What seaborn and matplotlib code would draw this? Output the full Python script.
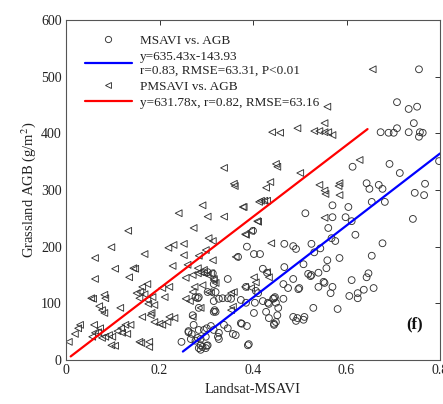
import numpy as np
import pandas as pd
import matplotlib
matplotlib.use('Agg')
import matplotlib.pyplot as plt
from matplotlib.lines import Line2D
import seaborn as sns

# MSAVI vs. AGB (circles)
msavi_x = [0.755, 0.708, 0.733, 0.751, 0.744, 0.673, 0.690, 0.701, 0.708, 0.733, 0.757, 0.763,
           0.755, 0.613, 0.692, 0.714, 0.798, 0.643, 0.649, 0.669, 0.677, 0.768, 0.766, 0.746,
           0.570, 0.604, 0.654, 0.682, 0.742, 0.570, 0.598, 0.611, 0.561, 0.619, 0.568, 0.576,
           0.677, 0.525, 0.531, 0.544, 0.654, 0.585, 0.559, 0.557, 0.540, 0.525, 0.611, 0.643,
           0.647, 0.551, 0.553, 0.540, 0.570, 0.566, 0.606, 0.624, 0.637, 0.658, 0.624, 0.529,
           0.581, 0.512, 0.387, 0.402, 0.415, 0.467, 0.486, 0.492, 0.400, 0.368, 0.421, 0.430,
           0.467, 0.486, 0.497, 0.508, 0.518, 0.523, 0.374, 0.385, 0.406, 0.411, 0.402, 0.428,
           0.434, 0.445, 0.447, 0.454, 0.465, 0.452, 0.346, 0.385, 0.465, 0.475, 0.499, 0.316,
           0.327, 0.335, 0.346, 0.353, 0.277, 0.284, 0.404, 0.421, 0.432, 0.443, 0.449, 0.434,
           0.449, 0.445, 0.486, 0.492, 0.508, 0.495, 0.510, 0.284, 0.320, 0.318, 0.271, 0.273,
           0.284, 0.295, 0.301, 0.310, 0.316, 0.327, 0.327, 0.325, 0.338, 0.346, 0.357, 0.363,
           0.376, 0.387, 0.374, 0.262, 0.269, 0.267, 0.277, 0.288, 0.299, 0.284, 0.292, 0.301,
           0.288, 0.389, 0.247, 0.262, 0.282, 0.288, 0.299, 0.303, 0.391, 0.303, 0.314, 0.316,
           0.303, 0.320, 0.282, 0.316, 0.445]
msavi_agb = [513, 455, 443, 447, 418, 402, 401, 401, 409, 402, 402, 401,
             394, 341, 346, 330, 351, 312, 302, 309, 302, 311, 291, 295,
             273, 270, 279, 279, 249, 252, 252, 245, 233, 221, 215, 210,
             206, 205, 190, 197, 184, 180, 176, 162, 154, 150, 141, 146,
             153, 138, 136, 129, 129, 118, 113, 118, 124, 127, 109, 92,
             90, 259, 200, 187, 187, 205, 201, 196, 228, 182, 161, 154,
             164, 143, 125, 169, 152, 148, 106, 101, 122, 118, 83, 85,
             99, 109, 111, 92, 108, 79, 143, 129, 134, 127, 127, 104,
             108, 109, 109, 108, 111, 111, 101, 104, 101, 108, 101, 74,
             67, 64, 76, 69, 71, 74, 76, 92, 85, 88, 79, 62,
             53, 53, 56, 60, 53, 48, 37, 41, 62, 56, 46, 44,
             64, 60, 65, 51, 46, 37, 34, 37, 41, 21, 23, 25,
             26, 26, 32, 49, 39, 18, 21, 26, 28, 155, 153, 134,
             120, 120, 109, 85, 62]

# PMSAVI vs. AGB (triangles)
pmsavi_x = [0.656, 0.559, 0.553, 0.441, 0.458, 0.495, 0.531, 0.542, 0.553, 0.561, 0.570, 0.449,
            0.501, 0.542, 0.553, 0.555, 0.583, 0.585, 0.585, 0.628, 0.437, 0.428, 0.417, 0.424,
            0.430, 0.380, 0.439, 0.553, 0.411, 0.402, 0.406, 0.430, 0.338, 0.359, 0.292, 0.241,
            0.303, 0.338, 0.378, 0.273, 0.133, 0.305, 0.314, 0.385, 0.413, 0.452, 0.361, 0.409,
            0.383, 0.396, 0.299, 0.284, 0.363, 0.314, 0.097, 0.062, 0.105, 0.144, 0.148, 0.062,
            0.135, 0.168, 0.219, 0.230, 0.252, 0.252, 0.228, 0.260, 0.282, 0.295, 0.316, 0.054,
            0.058, 0.082, 0.084, 0.071, 0.077, 0.082, 0.116, 0.151, 0.159, 0.168, 0.183, 0.181,
            0.163, 0.221, 0.232, 0.030, 0.026, 0.019, 0.006, 0.060, 0.073, 0.062, 0.056, 0.069,
            0.077, 0.084, 0.092, 0.099, 0.110, 0.118, 0.127, 0.138, 0.120, 0.131, 0.097, 0.105,
            0.157, 0.161, 0.178, 0.178, 0.256, 0.271, 0.282, 0.288, 0.295, 0.303, 0.310, 0.275,
            0.292, 0.310, 0.305, 0.320, 0.316, 0.271, 0.353, 0.359, 0.383, 0.396, 0.434, 0.271,
            0.288, 0.353, 0.357, 0.256, 0.157, 0.174, 0.185, 0.176, 0.189, 0.206, 0.211, 0.221,
            0.189, 0.200, 0.206, 0.217, 0.265, 0.163, 0.174]
pmsavi_agb = [513, 447, 418, 402, 401, 409, 404, 404, 402, 402, 397, 346,
              330, 309, 299, 293, 307, 312, 291, 353, 314, 304, 281, 281,
              281, 270, 206, 251, 244, 146, 137, 155, 339, 311, 273, 259,
              253, 253, 270, 233, 228, 215, 210, 221, 279, 341, 307, 245,
              222, 228, 194, 184, 182, 176, 199, 180, 161, 162, 161, 143,
              146, 187, 198, 203, 205, 185, 166, 168, 162, 159, 143, 109,
              108, 115, 109, 95, 88, 83, 92, 118, 120, 116, 83, 79,
              76, 76, 74, 62, 56, 46, 32, 62, 56, 48, 41, 49,
              39, 41, 44, 41, 51, 56, 62, 62, 48, 46, 26, 25,
              32, 30, 23, 32, 145, 150, 153, 155, 153, 150, 153, 129,
              132, 118, 120, 136, 141, 120, 118, 120, 129, 127, 146, 76,
              92, 88, 94, 108, 109, 106, 111, 99, 97, 127, 111, 129,
              67, 64, 62, 67, 104, 129, 134]

# regression fits as given in the legend
msavi_slope, msavi_icpt = 635.43, -143.93
pmsavi_slope, pmsavi_icpt = 631.78, 0.0
msavi_fit_x = [0.25, 0.80]
pmsavi_fit_x = [0.01, 0.645]

x_ticks = [0, 0.2, 0.4, 0.6, 0.8]
x_tick_labels = ['0', '0.2', '0.4', '0.6', '0.8']
y_ticks = [0, 100, 200, 300, 400, 500, 600]

sns.set_style('white')
plt.rcParams['font.family'] = ['Liberation Serif', 'DejaVu Serif']
plt.rcParams['mathtext.fontset'] = 'stix'

fig = plt.figure(figsize=(4.43, 4.04), dpi=100)
ax = fig.add_axes([66 / 443, 1 - 360 / 404, (440 - 66) / 443, (360 - 20) / 404])

sns.scatterplot(x=msavi_x, y=msavi_agb, marker='o', s=24, facecolor='none',
                edgecolor='#333333', linewidth=0.65, ax=ax)
sns.scatterplot(x=pmsavi_x, y=pmsavi_agb, marker='<', s=24, facecolor='none',
                edgecolor='#333333', linewidth=0.65, ax=ax)

fit_m = pd.DataFrame({'x': msavi_fit_x})
fit_m['y'] = msavi_slope * fit_m['x'] + msavi_icpt
fit_p = pd.DataFrame({'x': pmsavi_fit_x})
fit_p['y'] = pmsavi_slope * fit_p['x'] + pmsavi_icpt
sns.lineplot(data=fit_m, x='x', y='y', color='#0000ff', linewidth=1.6, ax=ax)
sns.lineplot(data=fit_p, x='x', y='y', color='#ff0000', linewidth=1.6, ax=ax)

ax.set_xlim(0, 0.8)
ax.set_ylim(0, 600)
ax.set_xticks(x_ticks)
ax.set_xticklabels(x_tick_labels)
ax.set_yticks(y_ticks)
ax.tick_params(direction='in', top=True, right=True, length=3.5, width=0.7,
               labelsize=10, colors='#333333', pad=3)
ax.tick_params(axis='x', labelcolor='#222222')
ax.tick_params(axis='y', labelcolor='#222222')
for sp in ax.spines.values():
    sp.set_color('#555555')
    sp.set_linewidth(0.8)

ax.set_xlabel('Landsat-MSAVI', fontsize=10.5, color='#222222', labelpad=4)
ax.set_ylabel('Grassland AGB (g/m$^2$)', fontsize=10.5, color='#222222', labelpad=2)

handles = [
    Line2D([], [], linestyle='none', marker='o', markersize=4.5, markerfacecolor='none',
           markeredgecolor='#333333', markeredgewidth=0.65),
    Line2D([], [], color='#0000ff', linewidth=1.6),
    Line2D([], [], linestyle='none', marker='<', markersize=4.5, markerfacecolor='none',
           markeredgecolor='#333333', markeredgewidth=0.65),
    Line2D([], [], color='#ff0000', linewidth=1.6),
]
labels = ['MSAVI vs. AGB',
          'y=635.43x-143.93\nr=0.83, RMSE=63.31, P<0.01',
          'PMSAVI vs. AGB',
          'y=631.78x, r=0.82, RMSE=63.16']
leg = ax.legend(handles, labels, loc='upper left', bbox_to_anchor=(0.025, 0.985),
                frameon=False, fontsize=9.5, handlelength=3.6, handletextpad=0.6,
                labelspacing=0.3, borderaxespad=0.3)
for t in leg.get_texts():
    t.set_color('#222222')

ax.text(0.746, 62, '(f)', fontsize=12, fontweight='bold', color='#111111',
        ha='center', va='center')

fig.savefig('out.png', dpi=100)
